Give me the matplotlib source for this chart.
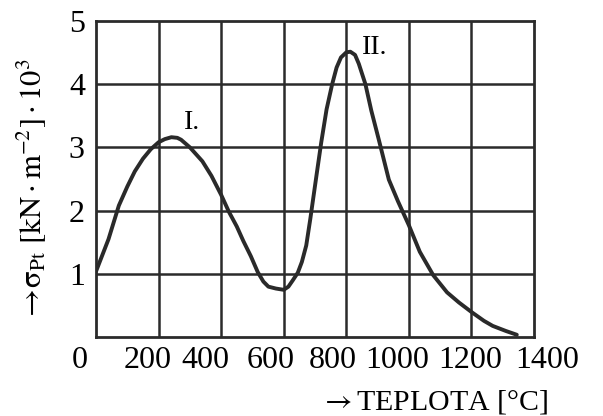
import matplotlib
matplotlib.use("Agg")
import matplotlib.pyplot as plt

plt.rcParams['font.family'] = ['Liberation Serif', 'DejaVu Serif']
plt.rcParams['mathtext.fontset'] = 'stix'

# Curve (temperature in °C, sigma in kN·m^-2 ·10^3)
temp = [0, 40, 73, 100, 124, 150, 175, 200, 220, 241, 260, 272, 300, 340, 369,
        400, 425, 450, 471, 495, 517, 535, 551, 575, 600, 615, 629, 645, 658,
        672, 685, 706, 720, 737, 755, 769, 783, 800, 813, 828, 840, 861, 880,
        904, 936, 965, 1000, 1035, 1078, 1122, 1160, 1200, 1240, 1268, 1310, 1345]
sigma = [1.04, 1.55, 2.08, 2.38, 2.62, 2.82, 2.97, 3.08, 3.13, 3.16, 3.15, 3.12, 3.00, 2.78, 2.55,
         2.25, 1.98, 1.75, 1.52, 1.28, 1.03, 0.88, 0.80, 0.77, 0.75, 0.80, 0.90, 1.02, 1.19,
         1.45, 1.87, 2.60, 3.08, 3.60, 4.00, 4.26, 4.42, 4.50, 4.51, 4.46, 4.32, 4.00, 3.58,
         3.12, 2.49, 2.15, 1.77, 1.35, 0.98, 0.71, 0.55, 0.40, 0.26, 0.18, 0.10, 0.04]

xgrid = [0, 200, 400, 600, 800, 1000, 1200, 1400]
ygrid = [0, 1, 2, 3, 4, 5]
xlabels = ['0', '200', '400', '600', '800', '1000', '1200', '1400']
xlabel_pos = [-51, 166, 351, 559, 757, 962, 1195, 1441]
ylabels = ['1', '2', '3', '4', '5']
peak_labels = ['I.', 'II.']
peak_pos = [(307, 3.39), (892, 4.57)]

fig = plt.figure(figsize=(6.03, 4.16), dpi=100)
ax = fig.add_axes([96/603, 1 - 337.3/416, (534-96)/603, (337.3-20.7)/416])
ax.set_xlim(0, 1400)
ax.set_ylim(0, 5)

gc = '#2b2b2b'
for xv in xgrid[1:-1]:
    ax.axvline(xv, color=gc, lw=1.8, zorder=1)
for yv in ygrid[1:-1]:
    ax.axhline(yv, color=gc, lw=1.8, zorder=1)
for s in ax.spines.values():
    s.set_color(gc)
    s.set_linewidth(2.0)

ax.plot(temp, sigma, color='#2a2a2a', lw=2.8, solid_capstyle='round',
        solid_joinstyle='round', zorder=3)

ax.set_xticks([])
ax.set_yticks(ygrid[1:])
ax.set_yticklabels(ylabels, fontsize=23)
ax.tick_params(axis='y', length=0, pad=8)

xt = ax.get_xaxis_transform()
for lab, xp in zip(xlabels, xlabel_pos):
    ax.text(xp, -0.072, lab, transform=xt, ha='center', va='center',
            fontsize=23, clip_on=False)

for lab, (px, py) in zip(peak_labels, peak_pos):
    ax.text(px, py, lab, ha='center', va='center', fontsize=20)

fig.text(434/603, 1 - 402/416, r'$\rightarrow$TEPLOTA [°C]', ha='center',
         va='center', fontsize=21.5)
fig.text(32/603, 1 - 190/416,
         r'$\rightarrow\!\mathrm{σ}_{\mathrm{Pt}}\ [\mathrm{kN}\cdot\mathrm{m}^{-2}]\cdot10^{3}$',
         rotation=90, ha='center', va='center', fontsize=22)

fig.savefig('out.png', dpi=100)
